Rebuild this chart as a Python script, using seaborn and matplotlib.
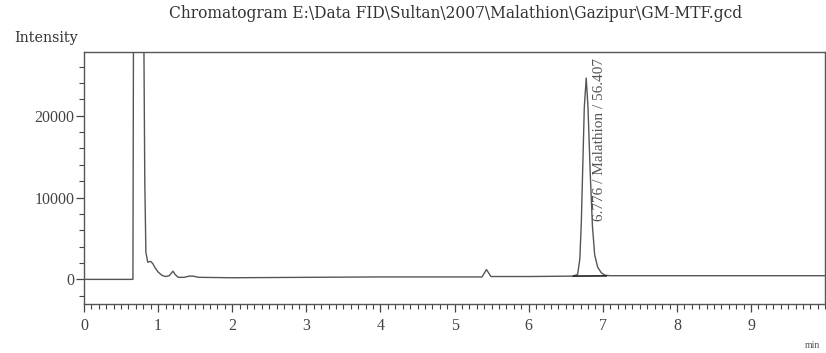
import numpy as np
import pandas as pd
import matplotlib
matplotlib.use("Agg")
import matplotlib.pyplot as plt
import seaborn as sns
from matplotlib.ticker import MultipleLocator

# ---- data ----
time_min = [0.00, 0.66, 0.67, 0.70, 0.80, 0.82, 0.835, 0.86, 0.90, 0.93, 0.96, 1.00,
            1.05, 1.10, 1.15, 1.20, 1.23, 1.27, 1.35, 1.42, 1.47, 1.55, 2.00, 3.00,
            4.00, 5.00, 5.37, 5.43, 5.49, 5.60, 6.00, 6.60, 6.66, 6.69, 6.71, 6.73,
            6.75, 6.776, 6.80, 6.83, 6.86, 6.89, 6.93, 6.98, 7.03, 7.10, 8.00, 9.00,
            10.00]
intensity = [0, 0, 40000, 40000, 40000, 12000, 3300, 2100, 2200, 1900, 1400, 900,
             500, 350, 450, 1000, 600, 250, 250, 400, 400, 250, 200, 250,
             300, 300, 300, 1200, 350, 350, 350, 400, 600, 2500, 7000, 14000,
             21000, 24600, 21000, 13000, 6500, 3000, 1500, 800, 500, 450, 450, 450,
             450]
peak_base_t = [6.60, 7.05]
peak_base_y = [400, 430]
peak_label = "6.776 / Malathion / 56.407"
peak_label_pos = (6.96, 7100)
title = r"Chromatogram E:\Data FID\Sultan\2007\Malathion\Gazipur\GM-MTF.gcd"

df = pd.DataFrame({"time": time_min, "intensity": intensity})
base = pd.DataFrame({"time": peak_base_t, "intensity": peak_base_y})

sns.set_style("white")
plt.rcParams["font.family"] = ["Liberation Serif", "DejaVu Serif"]

fig = plt.figure(figsize=(8.26, 3.53), dpi=100)
ax = fig.add_axes([0.1017, 0.139, 0.8973, 0.714])

sns.lineplot(data=df, x="time", y="intensity", ax=ax, color="#555555", lw=1.0)
sns.lineplot(data=base, x="time", y="intensity", ax=ax, color="#222222", lw=1.2)

ax.set_xlim(0, 10)
ax.set_ylim(-3000, 27800)
ax.set_xlabel("")
ax.set_ylabel("")

ax.xaxis.set_major_locator(MultipleLocator(1))
ax.xaxis.set_minor_locator(MultipleLocator(0.1))
ax.yaxis.set_major_locator(MultipleLocator(10000))
ax.yaxis.set_minor_locator(MultipleLocator(2000))
ax.set_xticks(np.arange(0, 10, 1))
ax.tick_params(axis="both", which="major", direction="out", length=6, width=0.9,
               color="#444444", labelsize=11.5, labelcolor="#444444", pad=1,
               bottom=True, left=True)
ax.tick_params(axis="x", which="major", pad=4)
ax.tick_params(axis="both", which="minor", direction="out", length=3.5, width=0.8,
               color="#444444", bottom=True, left=True)

for s in ax.spines.values():
    s.set_color("#555555")
    s.set_linewidth(1.0)

ax.text(*peak_label_pos, peak_label, rotation=90, fontsize=11, color="#555555",
        ha="center", va="bottom")

fig.text(0.551, 0.963, title, ha="center", va="center", fontsize=11.2,
         color="#333333", family="DejaVu Serif")
fig.text(0.017, 0.893, "Intensity", ha="left", va="center", fontsize=10.3,
         color="#333333", family="DejaVu Serif")
fig.text(0.983, 0.022, "min", ha="center", va="center", fontsize=7, color="#555555")

fig.savefig("out.png", dpi=100, facecolor="white")
